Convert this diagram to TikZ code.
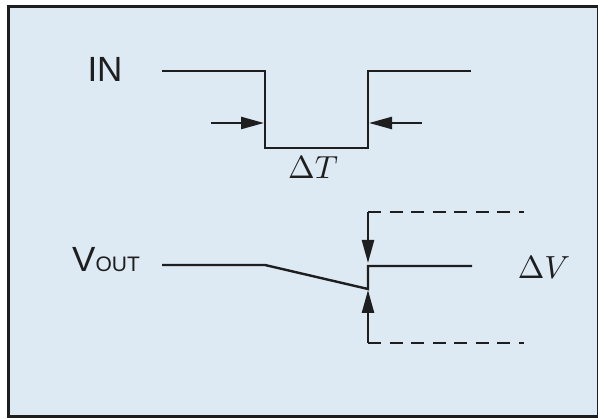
\documentclass[tikz,border=0pt]{standalone}
\usepackage{graphicx}
\usepackage{fontspec}
\setsansfont{Liberation Sans}
\usetikzlibrary{arrows.meta}
\definecolor{bgblue}{RGB}{221,233,243}
\definecolor{inkgray}{RGB}{30,30,30}
\newcommand{\bigmath}[1]{\scalebox{3.2}{\normalsize$#1$}}
\begin{document}
\begin{tikzpicture}[x=1pt,y=-1pt,
  wave/.style={draw=inkgray,line width=2.4pt,line join=miter},
  dimarrow/.style={draw=inkgray,line width=2.4pt,-{Triangle[length=23pt,width=12pt,fill=inkgray]}},
  dashline/.style={draw=inkgray,line width=2.4pt,dash pattern=on 13pt off 8.5pt},
  sflabel/.style={inner sep=0pt,text=inkgray,font=\sffamily\fontsize{35}{40}\selectfont},
  mathlabel/.style={inner sep=0pt,text=inkgray}]
\useasboundingbox (0,0) rectangle (598,419);
\fill[white] (0,0) rectangle (598,419);
\filldraw[fill=bgblue,draw=inkgray,line width=3pt] (8,7) rectangle (598.5,417);
% IN waveform
\coordinate (i0) at (162,71);
\coordinate (i1) at (265,71);
\coordinate (i2) at (265,148);
\coordinate (i3) at (368,148);
\coordinate (i4) at (368,71);
\coordinate (i5) at (471,71);
\draw[wave] (i0) -- (i1) -- (i2) -- (i3) -- (i4) -- (i5);
\coordinate (al) at (211,123);
\coordinate (alt) at (264,123);
\coordinate (ar) at (422,123);
\coordinate (art) at (369,123);
\draw[dimarrow] (al) -- (alt);
\draw[dimarrow] (ar) -- (art);
\node[sflabel,anchor=base] (inlabel) at (105,82) {IN};
\node[mathlabel,anchor=base] (dT) at (313,179) {\bigmath{\Delta T}};
% VOUT waveform
\coordinate (v0) at (162,265);
\coordinate (v1) at (265,265);
\coordinate (v2) at (368,289);
\coordinate (v3) at (368,266);
\coordinate (v4) at (472,266);
\draw[wave] (v0) -- (v1) -- (v2) -- (v3) -- (v4);
\coordinate (tc) at (368,212);
\coordinate (te) at (524,212);
\coordinate (tt) at (368,263);
\coordinate (bc) at (368,343);
\coordinate (be) at (524,343);
\coordinate (bt) at (368,290);
\draw[dimarrow] (tc) -- (tt);
\draw[dimarrow] (bc) -- (bt);
\draw[dashline] (tc) -- (te);
\draw[dashline] (bc) -- (be);
\node[sflabel,anchor=base west] (voutlabel) at (72,272) {V{\fontsize{21}{24}\selectfont OUT}};
\node[mathlabel,anchor=base] (dV) at (544,279) {\bigmath{\Delta V}};
\end{tikzpicture}
\end{document}
